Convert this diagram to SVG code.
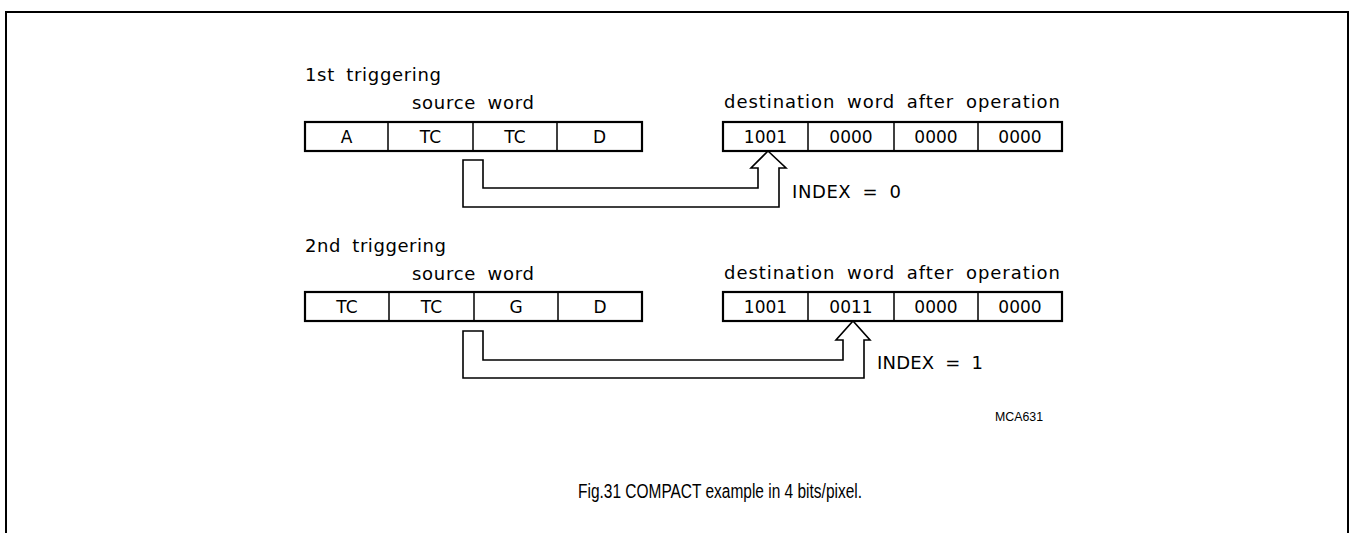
<svg xmlns="http://www.w3.org/2000/svg" width="1353" height="533" viewBox="0 0 1353 533">
<style>
.t{font-family:"DejaVu Sans","Liberation Sans",sans-serif;font-size:18px;fill:#000}
.l{word-spacing:5px}
.c{text-anchor:middle;font-size:17px}
.box{fill:#fff;stroke:#000;stroke-width:2.2}
.div{stroke:#000;stroke-width:1.5}
.arr{fill:none;stroke:#000;stroke-width:1.6;stroke-linejoin:miter}
.frame{fill:none;stroke:#000;stroke-width:2}
.cap{font-family:"Liberation Sans",Arial,sans-serif;fill:#000}
</style>
<rect width="1353" height="533" fill="#fff"/>
<path class="frame" d="M6,533 V12 H1348 V533"/>

<g id="label-1st">
<text class="t l" x="305" y="81" textLength="136" lengthAdjust="spacing">1st triggering</text>
<text class="t l" x="412" y="109" textLength="122" lengthAdjust="spacing">source word</text>
<text class="t l" x="724" y="108" textLength="336" lengthAdjust="spacing">destination word after operation</text>
</g>

<g id="source-word-1">
<rect class="box" x="305" y="122" width="337" height="29"/>
<line class="div" x1="388" y1="122" x2="388" y2="151"/>
<line class="div" x1="473" y1="122" x2="473" y2="151"/>
<line class="div" x1="557" y1="122" x2="557" y2="151"/>
<text class="t c" x="346.5" y="143">A</text>
<text class="t c" x="430.5" y="143">TC</text>
<text class="t c" x="515" y="143">TC</text>
<text class="t c" x="599.5" y="143">D</text>
</g>

<g id="dest-word-1">
<rect class="box" x="723" y="122" width="339" height="29"/>
<line class="div" x1="808" y1="122" x2="808" y2="151"/>
<line class="div" x1="894" y1="122" x2="894" y2="151"/>
<line class="div" x1="978" y1="122" x2="978" y2="151"/>
<text class="t c" x="765.5" y="143">1001</text>
<text class="t c" x="851" y="143">0000</text>
<text class="t c" x="936" y="143">0000</text>
<text class="t c" x="1020" y="143">0000</text>
</g>

<g id="index-0">
<text class="t l" x="792" y="198" textLength="109" lengthAdjust="spacing">INDEX = 0</text>
</g>

<g id="label-2nd">
<text class="t l" x="305" y="252" textLength="141" lengthAdjust="spacing">2nd triggering</text>
<text class="t l" x="412" y="280" textLength="122" lengthAdjust="spacing">source word</text>
<text class="t l" x="724" y="279" textLength="336" lengthAdjust="spacing">destination word after operation</text>
</g>

<g id="source-word-2">
<rect class="box" x="305" y="292" width="337" height="29"/>
<line class="div" x1="389" y1="292" x2="389" y2="321"/>
<line class="div" x1="474" y1="292" x2="474" y2="321"/>
<line class="div" x1="558" y1="292" x2="558" y2="321"/>
<text class="t c" x="347" y="313">TC</text>
<text class="t c" x="431.5" y="313">TC</text>
<text class="t c" x="516" y="313">G</text>
<text class="t c" x="600" y="313">D</text>
</g>

<g id="dest-word-2">
<rect class="box" x="723" y="292" width="339" height="29"/>
<line class="div" x1="808" y1="292" x2="808" y2="321"/>
<line class="div" x1="894" y1="292" x2="894" y2="321"/>
<line class="div" x1="978" y1="292" x2="978" y2="321"/>
<text class="t c" x="765.5" y="313">1001</text>
<text class="t c" x="851" y="313">0011</text>
<text class="t c" x="936" y="313">0000</text>
<text class="t c" x="1020" y="313">0000</text>
</g>

<g id="index-1">
<text class="t l" x="877" y="369" textLength="106" lengthAdjust="spacing">INDEX = 1</text>
</g>

<g id="connectors">
<path class="arr" d="M463,207 V160 H483 V188 H758 V168 H751 L768,151 L786,168 H779 V207 Z"/>
<path class="arr" d="M463,378 V331 H483 V360 H843 V340 H836 L853,321 L870,340 H864 V378 Z"/>
</g>

<g id="ref">
<text class="cap" x="995" y="421" style="font-size:13px" textLength="48" lengthAdjust="spacingAndGlyphs">MCA631</text>
</g>

<g id="caption">
<text class="cap" x="578" y="498" style="font-size:20px" textLength="284" lengthAdjust="spacingAndGlyphs">Fig.31 COMPACT example in 4 bits/pixel.</text>
</g>
</svg>
